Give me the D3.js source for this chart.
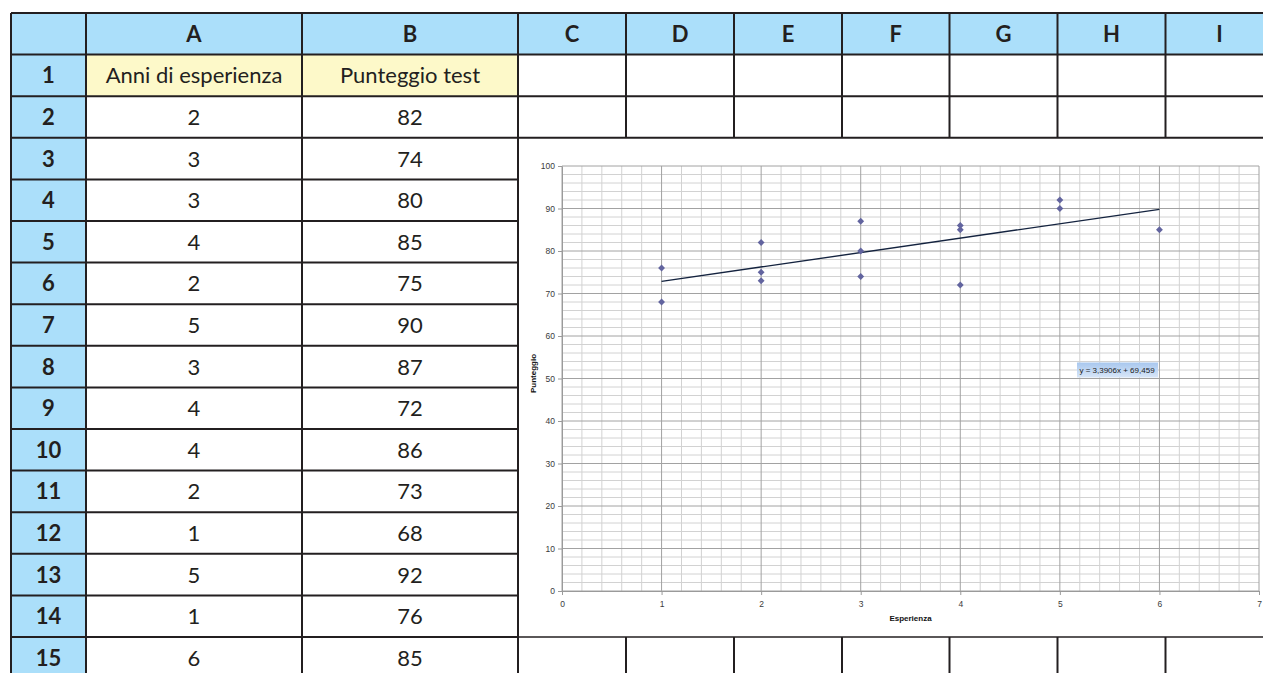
<!DOCTYPE html>
<html>
<head>
<meta charset="utf-8">
<script src="https://cdn.jsdelivr.net/npm/d3@7"></script>
<style>
  html, body { margin: 0; padding: 0; background: #fff; }
  svg { display: block; }
</style>
</head>
<body>
<div id="sheet"></div>
<script>
// spreadsheet contents
const columnLetters = ["A", "B", "C", "D", "E", "F", "G", "H", "I"];
const rowNumbers = [1, 2, 3, 4, 5, 6, 7, 8, 9, 10, 11, 12, 13, 14, 15];
const headers = ["Anni di esperienza", "Punteggio test"];
const anni = [2, 3, 3, 4, 2, 5, 3, 4, 4, 2, 1, 5, 1, 6];
const punteggio = [82, 74, 80, 85, 75, 90, 87, 72, 86, 73, 68, 92, 76, 85];

// chart axes
const xTicks = [0, 1, 2, 3, 4, 5, 6, 7];
const yTicks = [0, 10, 20, 30, 40, 50, 60, 70, 80, 90, 100];
const xTitle = "Esperienza";
const yTitle = "Punteggio";

const W = 1263, H = 673;
const ink = "#231f20";
const blue = "#abdffa";
const yellow = "#fdf9c9";

const svg = d3.select("#sheet").append("svg")
  .attr("width", W).attr("height", H);

// ---- table geometry
const tableTop = 13, rowH = 41.6;
const colW = [75, 216, 216, 108, 108, 108, 107.5, 108, 108, 108];
const colX = [11];
colW.forEach(w => colX.push(colX[colX.length - 1] + w));
const rowY = i => tableTop + i * rowH;   // i = 0 header, 1 = row 1 ...

// backgrounds
svg.append("rect").attr("x", colX[0]).attr("y", rowY(0))
  .attr("width", W - colX[0]).attr("height", rowH).attr("fill", blue);
svg.append("rect").attr("x", colX[0]).attr("y", rowY(0))
  .attr("width", colW[0]).attr("height", H - rowY(0)).attr("fill", blue);
svg.selectAll("rect.yel").data(headers).enter().append("rect")
  .attr("class", "yel")
  .attr("x", (d, i) => colX[i + 1]).attr("y", rowY(1))
  .attr("width", (d, i) => colW[i + 1]).attr("height", rowH)
  .attr("fill", yellow);

// ---- chart (rows 3-14, columns C-I)
const x = d3.scaleLinear().domain([0, 7]).range([562, 1259]);
const y = d3.scaleLinear().domain([0, 100]).range([591, 166]);

const chart = svg.append("g");

// minor grid
chart.selectAll("line.vminor").data(d3.range(0, 35).map(i => i / 5).filter(v => v % 1 !== 0))
  .enter().append("line")
  .attr("x1", d => x(d)).attr("x2", d => x(d))
  .attr("y1", y(100)).attr("y2", y(0))
  .attr("stroke", "#d2d2d2").attr("stroke-width", 1);
chart.selectAll("line.hminor").data(d3.range(0, 100, 2).filter(v => v % 10 !== 0))
  .enter().append("line")
  .attr("x1", x(0)).attr("x2", x(7))
  .attr("y1", d => y(d)).attr("y2", d => y(d))
  .attr("stroke", "#d2d2d2").attr("stroke-width", 1);

// major grid
chart.selectAll("line.vmajor").data(xTicks).enter().append("line")
  .attr("x1", d => x(d)).attr("x2", d => x(d))
  .attr("y1", y(100)).attr("y2", y(0))
  .attr("stroke", "#a2a2a2").attr("stroke-width", 1);
chart.selectAll("line.hmajor").data(yTicks).enter().append("line")
  .attr("x1", x(0)).attr("x2", x(7))
  .attr("y1", d => y(d)).attr("y2", d => y(d))
  .attr("stroke", "#a2a2a2").attr("stroke-width", 1);

// axes
const styleAxis = g => {
  g.select(".domain").attr("stroke", "#9a9a9a");
  g.selectAll(".tick line").attr("stroke", "#9a9a9a");
  g.selectAll(".tick text").attr("fill", "#3a3a3a")
    .style("font-family", "'Liberation Sans', Arial, sans-serif")
    .style("font-size", "8.5px");
};
chart.append("g")
  .attr("transform", `translate(0,${y(0)})`)
  .call(d3.axisBottom(x).tickValues(xTicks).tickFormat(d3.format("d"))
    .tickSize(4).tickPadding(6).tickSizeOuter(0))
  .call(styleAxis);
chart.append("g")
  .attr("transform", `translate(${x(0)},0)`)
  .call(d3.axisLeft(y).tickValues(yTicks).tickFormat(d3.format("d"))
    .tickSize(4).tickPadding(3).tickSizeOuter(0))
  .call(styleAxis);

// axis titles
chart.append("text")
  .attr("x", (x(0) + x(7)) / 2).attr("y", 621)
  .attr("text-anchor", "middle")
  .style("font-family", "'Liberation Sans Narrow', 'Liberation Sans', Arial, sans-serif")
  .style("font-size", "8px").style("font-weight", "bold")
  .attr("fill", "#111").text(xTitle);
chart.append("text")
  .attr("transform", `translate(536,${(y(0) + y(100)) / 2 - 5}) rotate(-90)`)
  .attr("text-anchor", "middle")
  .style("font-family", "'Liberation Sans Narrow', 'Liberation Sans', Arial, sans-serif")
  .style("font-size", "8px").style("font-weight", "bold")
  .attr("fill", "#111").text(yTitle);

// linear trend (least squares)
const mx = d3.mean(anni), my = d3.mean(punteggio);
const sxy = d3.sum(anni, (v, i) => (v - mx) * (punteggio[i] - my));
const sxx = d3.sum(anni, v => (v - mx) * (v - mx));
const slope = sxy / sxx;
const intercept = my - slope * mx;
const [xmin, xmax] = d3.extent(anni);

chart.append("line")
  .attr("x1", x(xmin)).attr("y1", y(slope * xmin + intercept))
  .attr("x2", x(xmax)).attr("y2", y(slope * xmax + intercept))
  .attr("stroke", "#14233f").attr("stroke-width", 1.4);

// points
chart.selectAll("path.pt").data(anni).enter().append("path")
  .attr("class", "pt")
  .attr("d", d3.symbol(d3.symbolDiamond2, 30))
  .attr("transform", (d, i) => `translate(${x(d)},${y(punteggio[i])})`)
  .attr("fill", "#62649f");

// equation label
const grad = svg.append("defs").append("linearGradient")
  .attr("id", "lbl").attr("x1", 0).attr("y1", 0).attr("x2", 0).attr("y2", 1);
grad.append("stop").attr("offset", "0%").attr("stop-color", "#a8c7ee");
grad.append("stop").attr("offset", "100%").attr("stop-color", "#d8e6f8");
const eq = `y = ${d3.format(".4f")(slope).replace(".", ",")}x + ${d3.format(".3f")(intercept).replace(".", ",")}`;
const lx = 1117, ly = 370;
chart.append("rect")
  .attr("x", lx - 40).attr("y", ly - 7.5).attr("width", 81).attr("height", 15)
  .attr("fill", "url(#lbl)");
chart.append("text")
  .attr("x", lx).attr("y", ly).attr("dy", "0.35em")
  .attr("text-anchor", "middle")
  .style("font-family", "'Liberation Sans Narrow', 'Liberation Sans', Arial, sans-serif")
  .style("font-size", "8px").attr("fill", "#1a1a1a").text(eq);

// ---- table lines
const grid = svg.append("g").attr("stroke", ink).attr("stroke-width", 2);
const fullRows = [0, 1, 2, 3];
d3.range(0, 16).forEach(i => {
  grid.append("line")
    .attr("x1", colX[0]).attr("x2", fullRows.includes(i) ? W : colX[3])
    .attr("y1", rowY(i)).attr("y2", rowY(i));
});
// top of row 15 under the chart is thinner
grid.append("line")
  .attr("x1", colX[3]).attr("x2", W)
  .attr("y1", rowY(15)).attr("y2", rowY(15))
  .attr("stroke-width", 1.5);
colX.forEach((cx, j) => {
  if (j <= 3) {
    grid.append("line").attr("x1", cx).attr("x2", cx).attr("y1", rowY(0)).attr("y2", H);
  } else if (cx < W) {
    grid.append("line").attr("x1", cx).attr("x2", cx).attr("y1", rowY(0)).attr("y2", rowY(3));
    grid.append("line").attr("x1", cx).attr("x2", cx).attr("y1", rowY(15)).attr("y2", H);
  }
});

// ---- table text
const font = "Lato, 'Open Sans', sans-serif";
const cellText = (sel) => sel
  .attr("text-anchor", "middle").attr("dy", "0.36em")
  .style("font-family", font).style("font-size", "22px").attr("fill", ink);

svg.selectAll("text.col").data(columnLetters).enter().append("text")
  .attr("class", "col")
  .attr("x", (d, i) => colX[i + 1] + colW[i + 1] / 2)
  .attr("y", rowY(0) + rowH / 2)
  .call(cellText).style("font-weight", "bold").text(d => d);

svg.selectAll("text.row").data(rowNumbers).enter().append("text")
  .attr("class", "row")
  .attr("x", colX[0] + colW[0] / 2)
  .attr("y", d => rowY(d) + rowH / 2)
  .call(cellText).style("font-weight", "bold").text(d => d);

svg.selectAll("text.hdr").data(headers).enter().append("text")
  .attr("class", "hdr")
  .attr("x", (d, i) => colX[i + 1] + colW[i + 1] / 2)
  .attr("y", rowY(1) + rowH / 2)
  .call(cellText).text(d => d);

svg.selectAll("text.anni").data(anni).enter().append("text")
  .attr("class", "anni")
  .attr("x", colX[1] + colW[1] / 2)
  .attr("y", (d, i) => rowY(i + 2) + rowH / 2)
  .call(cellText).text(d => d);

svg.selectAll("text.punt").data(punteggio).enter().append("text")
  .attr("class", "punt")
  .attr("x", colX[2] + colW[2] / 2)
  .attr("y", (d, i) => rowY(i + 2) + rowH / 2)
  .call(cellText).text(d => d);
</script>
</body>
</html>
